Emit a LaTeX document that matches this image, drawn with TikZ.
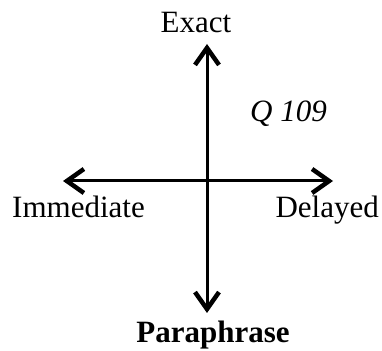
\documentclass[tikz,border=0pt]{standalone}
\usepackage{fontspec}
\setmainfont{Liberation Serif}
\usetikzlibrary{arrows.meta}

\begin{document}
\begin{tikzpicture}[
			x=1pt, y=1pt,
			font=\fontsize{31}{36}\selectfont,
			lbl/.style={inner sep=0pt},
			axis/.style={line width=3pt, {Straight Barb[length=17pt,width=24pt,line width=4.5pt]}-{Straight Barb[length=17pt,width=24pt,line width=4.5pt]}}
			]
			\useasboundingbox (0,0) rectangle (382,350);
			
			\coordinate (top) at (207,306);
			\coordinate (bottom) at (207,37);
			\coordinate (left) at (63,169);
			\coordinate (right) at (333,169);
			
			\node[lbl, anchor=base] (exact) at (196,317) {Exact};
			\node[lbl, anchor=base west] (q) at (250,228) {\itshape Q 109};
			\node[lbl, anchor=base west] (immediate) at (12,132) {Immediate};
			\node[lbl, anchor=base east] (delayed) at (379,132) {Delayed};
			\node[lbl, anchor=base] (paraphrase) at (213,8) {\bfseries Paraphrase};
			
			\draw[axis] (left) -- (right);
			\draw[axis] (bottom) -- (top);
			
		\end{tikzpicture}
\end{document}
